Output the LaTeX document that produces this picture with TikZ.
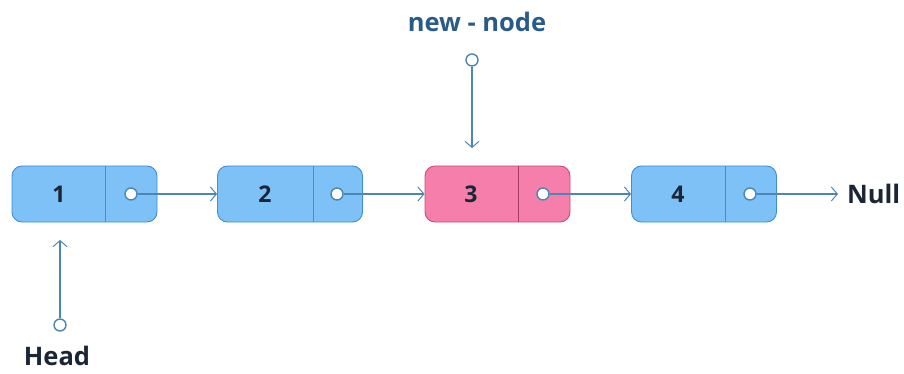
\documentclass[tikz,border=0pt]{standalone}
\usepackage{fontspec}
\setmainfont{Open Sans}
\usetikzlibrary{arrows.meta}
\definecolor{boxblue}{HTML}{7DC1F7}
\definecolor{edgeblue}{HTML}{3E8ED3}
\definecolor{boxpink}{HTML}{F57FAA}
\definecolor{edgepink}{HTML}{CF4A7A}
\definecolor{wire}{HTML}{4B86B4}
\definecolor{ink}{HTML}{1A2636}
\definecolor{navy}{HTML}{2A5B88}
\tikzset{
  cell/.style={draw=edgeblue, fill=boxblue, line width=0.9pt, rounded corners=10pt,
    minimum width=145pt, minimum height=56pt, inner sep=0pt},
  pinkcell/.style={cell, draw=edgepink, fill=boxpink},
  datum/.style={font=\bfseries\fontsize{23}{23}\selectfont, text=ink, inner sep=0pt},
  ptr/.style={circle, draw=wire, fill=white, line width=1.4pt, minimum size=12pt, inner sep=0pt},
  arr/.style={draw=wire, line width=1.2pt, -{Straight Barb[length=6pt,width=14pt,line width=1pt]}},
  lbl/.style={font=\bfseries\fontsize{25.5}{25.5}\selectfont, text=ink, inner sep=0pt}
}
\begin{document}
\begin{tikzpicture}[x=1pt,y=-1pt]
\useasboundingbox (0,0) rectangle (904,374);
% boxes
\node[cell] (n1) at (84.5,194) {};
\node[cell] (n2) at (290,194) {};
\node[pinkcell] (n3) at (497.5,194) {};
\node[cell] (n4) at (704,194) {};
% dividers
\draw[edgeblue, line width=0.9pt] (105,166) -- (105,222);
\draw[edgeblue, line width=0.9pt] (313,166) -- (313,222);
\draw[edgepink!80!black, line width=0.9pt] (518,166) -- (518,222);
\draw[edgeblue, line width=0.9pt] (725,166) -- (725,222);
% data
\node[datum] (d1) at (59,194) {1};
\node[datum] (d2) at (265,194) {2};
\node[datum] (d3) at (471,194) {3};
\node[datum] (d4) at (678,194) {4};
% pointers
\node[ptr] (p1) at (131,194) {};
\node[ptr] (p2) at (337,194) {};
\node[ptr] (p3) at (543,194) {};
\node[ptr] (p4) at (750,194) {};
\draw[arr] (p1) -- (n2.west);
\draw[arr] (p2) -- (n3.west);
\draw[arr] (p3) -- (n4.west);
\coordinate (nullend) at (838,194);
\draw[arr] (p4) -- (nullend);
\node[lbl, anchor=west] (null) at (847,194) {Null};
% new node
\node[lbl, text=navy] (nn) at (477,22) {new - node};
\node[ptr] (pn) at (472,60) {};
\coordinate (nnend) at (472,148);
\draw[arr] (pn) -- (nnend);
% head
\node[ptr] (ph) at (60,325) {};
\coordinate (hend) at (60,240);
\draw[arr] (ph) -- (hend);
\node[lbl] (head) at (57,356) {Head};
\end{tikzpicture}
\end{document}
